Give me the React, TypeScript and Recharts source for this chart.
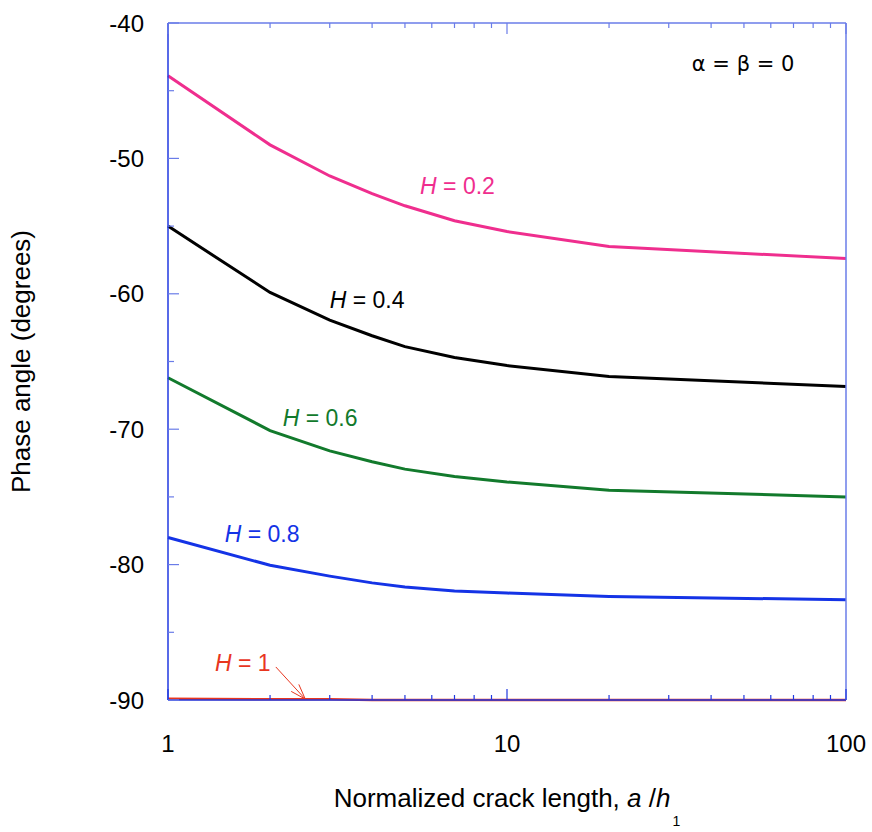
import { LineChart, Line, XAxis, YAxis, ReferenceDot, ReferenceLine, Label } from 'recharts';

// normalized crack length a/h1 (log axis)
const crackLength = [1, 2, 3, 4, 5, 7, 10, 20, 100];

// phase angle (degrees) for each H
const phaseH02 = [-43.9, -49.0, -51.3, -52.6, -53.5, -54.6, -55.4, -56.5, -57.4];
const phaseH04 = [-55.0, -59.9, -61.95, -63.1, -63.9, -64.7, -65.3, -66.1, -66.85];
const phaseH06 = [-66.2, -70.1, -71.6, -72.4, -72.95, -73.5, -73.9, -74.5, -75.0];
const phaseH08 = [-78.0, -80.05, -80.85, -81.35, -81.65, -81.95, -82.1, -82.35, -82.6];
const phaseH10 = [-89.9, -89.95, -89.95, -90, -90, -90, -90, -90, -90];

const xTicks = [1, 2, 3, 4, 5, 6, 7, 8, 9, 10, 20, 30, 40, 50, 60, 70, 80, 90, 100];
const xMajor = [1, 10, 100];
const yTicks = [-90, -85, -80, -75, -70, -65, -60, -55, -50, -45, -40];
const yMajor = [-90, -80, -70, -60, -50, -40];

const FONT = '"Liberation Sans", Arial, Helvetica, sans-serif';
const AXIS_DARK = '#2038e0';
const AXIS_LIGHT = '#6a7ce8';

const data = crackLength.map((a, i) => ({
  a,
  h02: phaseH02[i],
  h04: phaseH04[i],
  h06: phaseH06[i],
  h08: phaseH08[i],
  h10: phaseH10[i],
}));

const curves = [
  { key: 'h02', H: '0.2', color: '#ef2e8e', width: 3, at: { x: 5.54, y: -52.63 } },
  { key: 'h04', H: '0.4', color: '#000000', width: 3, at: { x: 3.0, y: -61.05 } },
  { key: 'h06', H: '0.6', color: '#127a2c', width: 3, at: { x: 2.18, y: -69.76 } },
  { key: 'h08', H: '0.8', color: '#1433e6', width: 3, at: { x: 1.47, y: -78.33 } },
  { key: 'h10', H: '1', color: '#e8361f', width: 2.5, at: { x: 1.376, y: -87.86 } },
];

function BottomTick({ x, y, payload }: any) {
  const major = xMajor.includes(payload.value);
  return (
    <g>
      <line x1={x} x2={x} y1={y} y2={y - (major ? 11 : 5)} stroke={AXIS_DARK} strokeWidth={1.2} />
      {major && (
        <text x={x} y={y + 52} textAnchor="middle" fontSize={24} fontFamily={FONT} fill="#000">
          {payload.value}
        </text>
      )}
    </g>
  );
}

function TopTick({ x, y, payload }: any) {
  const major = xMajor.includes(payload.value);
  return <line x1={x} x2={x} y1={y} y2={y + (major ? 11 : 5)} stroke={AXIS_LIGHT} strokeWidth={1.2} />;
}

function LeftTick({ x, y, payload }: any) {
  const major = yMajor.includes(payload.value);
  return (
    <g>
      <line x1={x} x2={x + (major ? 11 : 6)} y1={y} y2={y} stroke={AXIS_LIGHT} strokeWidth={1.2} />
      {major && (
        <text x={x - 24} y={y + 8.5} textAnchor="end" fontSize={24} fontFamily={FONT} fill="#000">
          {payload.value}
        </text>
      )}
    </g>
  );
}

function RightTick({ x, y, payload }: any) {
  const major = yMajor.includes(payload.value);
  return <line x1={x} x2={x - (major ? 11 : 6)} y1={y} y2={y} stroke={AXIS_LIGHT} strokeWidth={1.2} />;
}

function XTitle({ viewBox }: any) {
  const { x, y, width } = viewBox;
  return (
    <text x={x + width / 2} y={y + 107} textAnchor="middle" fontSize={26} fontFamily={FONT} fill="#000">
      Normalized crack length,{' '}
      <tspan fontStyle="italic">a</tspan>
      {' /'}
      <tspan fontStyle="italic">h</tspan>
      <tspan fontSize={14} dx={2} dy={19}>1</tspan>
    </text>
  );
}

function CurveLabel({ viewBox, color, H }: any) {
  return (
    <text x={viewBox.x} y={viewBox.y} fontSize={23} fontFamily={FONT} fill={color}>
      <tspan fontStyle="italic">H</tspan>
      {' = ' + H}
    </text>
  );
}

function NoteLabel({ viewBox }: any) {
  return (
    <text x={viewBox.x} y={viewBox.y} fontSize={21} fontFamily='"DejaVu Sans", sans-serif' fill="#000">
      α = β = 0
    </text>
  );
}

function Arrow({ x1, y1, x2, y2 }: any) {
  const ang = Math.atan2(y2 - y1, x2 - x1);
  const len = 16;
  const head = [-0.33, 0.33].map((s) => ({
    x: x2 - len * Math.cos(ang + s),
    y: y2 - len * Math.sin(ang + s),
  }));
  return (
    <g stroke="#e8361f" strokeWidth={1} fill="none">
      <line x1={x1} y1={y1} x2={x2} y2={y2} />
      {head.map((p, i) => (
        <line key={i} x1={p.x} y1={p.y} x2={x2} y2={y2} />
      ))}
    </g>
  );
}

export default function App() {
  return (
    <div style={{ position: 'absolute', left: 0, top: 0, width: 872, height: 832, background: '#fff' }}>
      <LineChart width={872} height={832} data={data} margin={{ top: 22, right: 25, bottom: 0, left: 0 }}>
        <XAxis
          dataKey="a"
          type="number"
          scale="log"
          domain={[1, 100]}
          ticks={xTicks}
          interval={0}
          tickSize={0}
          tickMargin={0}
          tick={<BottomTick />}
          height={132}
          axisLine={{ stroke: AXIS_DARK, strokeWidth: 1.5 }}
        >
          <Label content={<XTitle />} />
        </XAxis>
        <XAxis
          xAxisId="top"
          orientation="top"
          dataKey="a"
          type="number"
          scale="log"
          domain={[1, 100]}
          ticks={xTicks}
          interval={0}
          tickSize={0}
          tickMargin={0}
          tick={<TopTick />}
          height={1}
          axisLine={{ stroke: AXIS_LIGHT, strokeWidth: 1.5 }}
        />
        <YAxis
          type="number"
          domain={[-90, -40]}
          ticks={yTicks}
          interval={0}
          tickSize={0}
          tickMargin={0}
          tick={<LeftTick />}
          width={168}
          axisLine={{ stroke: AXIS_DARK, strokeWidth: 1.5 }}
          label={{
            value: 'Phase angle (degrees)',
            angle: -90,
            position: 'insideLeft',
            offset: 21,
            style: { textAnchor: 'middle', fontSize: 26, fontFamily: FONT, fill: '#000' },
          }}
        />
        <YAxis
          yAxisId="right"
          orientation="right"
          type="number"
          domain={[-90, -40]}
          ticks={yTicks}
          interval={0}
          tickSize={0}
          tickMargin={0}
          tick={<RightTick />}
          width={1}
          axisLine={{ stroke: AXIS_LIGHT, strokeWidth: 1.5 }}
        />
        {curves.map((c) => (
          <Line
            key={c.key}
            dataKey={c.key}
            type="linear"
            stroke={c.color}
            strokeWidth={c.width}
            dot={false}
            activeDot={false}
            isAnimationActive={false}
          />
        ))}
        {curves.map((c) => (
          <ReferenceDot
            key={'lbl-' + c.key}
            x={c.at.x}
            y={c.at.y}
            r={0}
            stroke="none"
            fill="none"
            label={<CurveLabel color={c.color} H={c.H} />}
          />
        ))}
        <ReferenceDot x={35.1} y={-43.55} r={0} stroke="none" fill="none" label={<NoteLabel />} />
        <ReferenceLine
          segment={[
            { x: 2.08, y: -87.56 },
            { x: 2.54, y: -89.93 },
          ]}
          shape={<Arrow />}
        />
      </LineChart>
    </div>
  );
}
